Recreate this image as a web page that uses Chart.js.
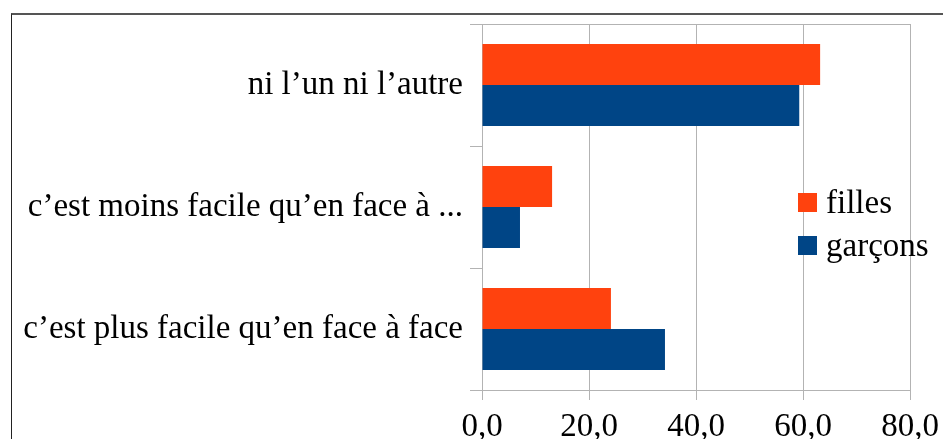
<!DOCTYPE html>
<html>
<head>
<meta charset="utf-8">
<script src="https://cdn.jsdelivr.net/npm/chart.js@4/dist/chart.umd.min.js"></script>
<style>
  html, body { margin: 0; padding: 0; background: #fff; overflow: hidden; }
  #wrap { position: relative; width: 943px; height: 439px; }
  #frame { position: absolute; left: 11px; top: 13px; width: 1000px; height: 1000px;
           border-left: 1px solid #222; border-top: 2px solid #555; box-sizing: border-box; }
  canvas { position: absolute; left: 0; top: 0; }
  #legend { position: absolute; left: 798px; top: 181px; font-family: 'Liberation Serif', serif;
            font-size: 33px; color: #000; }
  .row { display: flex; align-items: center; height: 43px; }
  .box { width: 19px; height: 19px; margin-right: 9px; }
</style>
</head>
<body>
<div id="wrap">
  <div id="frame"></div>
  <canvas id="c" width="943" height="439"></canvas>
  <div id="legend"></div>
</div>
<script>
const categories = ["ni l’un ni l’autre", "c’est moins facile qu’en face à ...", "c’est plus facile qu’en face à face"];
const filles = [63.2, 13.1, 24.1];
const garcons = [59.3, 7.1, 34.2];
const seriesLabels = ["filles", "garçons"];
const seriesColors = ["#ff420e", "#004586"];
const xMin = 0, xMax = 80, xStep = 20;

const FONT = "'Liberation Serif', 'Times New Roman', serif";
const GRID = "#b3b3b3";

const topLine = {
  id: 'topLine',
  afterDraw(chart) {
    const a = chart.chartArea, ctx = chart.ctx;
    ctx.save();
    ctx.strokeStyle = GRID;
    ctx.lineWidth = 1;
    ctx.beginPath();
    ctx.moveTo(a.left, a.top + 0.5);
    ctx.lineTo(a.right, a.top + 0.5);
    ctx.stroke();
    ctx.restore();
  }
};

function noPad(s) { s.paddingTop = 0; s.paddingBottom = 0; s.paddingLeft = 0; s.paddingRight = 0; }

new Chart(document.getElementById('c'), {
  type: 'bar',
  data: {
    labels: categories,
    datasets: [
      { label: seriesLabels[0], data: filles, backgroundColor: seriesColors[0] },
      { label: seriesLabels[1], data: garcons, backgroundColor: seriesColors[1] }
    ]
  },
  options: {
    indexAxis: 'y',
    responsive: false,
    animation: false,
    devicePixelRatio: 1,
    layout: { padding: { left: 0, top: 24, right: 33, bottom: 0 } },
    datasets: { bar: { categoryPercentage: 0.672, barPercentage: 1.0, borderWidth: 0 } },
    plugins: { legend: { display: false }, tooltip: { enabled: false } },
    scales: {
      x: {
        min: xMin, max: xMax,
        ticks: {
          stepSize: xStep, color: '#000', padding: 8, maxRotation: 0,
          font: { family: FONT, size: 33 },
          callback: v => v.toFixed(1).replace('.', ',')
        },
        grid: { color: GRID, tickLength: 10, lineWidth: 1 },
        border: { color: GRID },
        afterFit(s) { s.height = 49; noPad(s); }
      },
      y: {
        offset: true,
        ticks: { color: '#000', padding: 7, font: { family: FONT, size: 33 } },
        grid: { offset: true, drawOnChartArea: false, color: GRID, tickLength: 12 },
        border: { color: GRID },
        afterFit(s) { s.width = 482; noPad(s); }
      }
    }
  },
  plugins: [topLine]
});

const lg = document.getElementById('legend');
seriesLabels.forEach((l, i) => {
  const r = document.createElement('div'); r.className = 'row';
  const b = document.createElement('div'); b.className = 'box'; b.style.background = seriesColors[i];
  const t = document.createElement('span'); t.textContent = l;
  r.appendChild(b); r.appendChild(t); lg.appendChild(r);
});
</script>
</body>
</html>
